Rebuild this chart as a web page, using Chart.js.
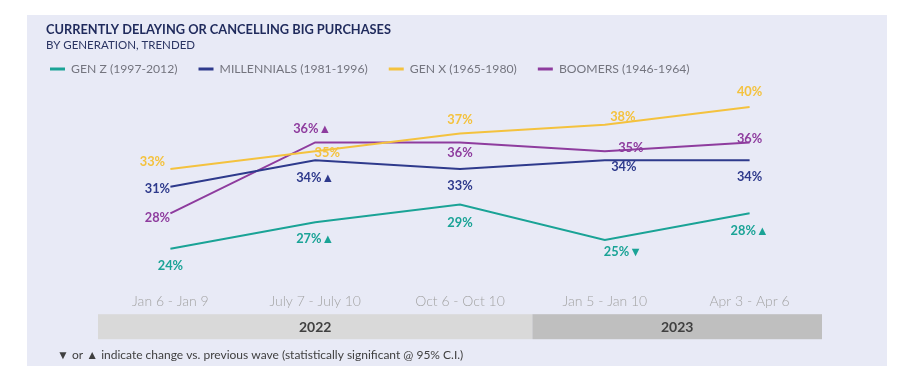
<!DOCTYPE html>
<html><head><meta charset="utf-8">
<script src="https://cdn.jsdelivr.net/npm/chart.js@4/dist/chart.umd.min.js"></script>
<style>
html,body{margin:0;padding:0;background:#fff;width:912px;height:384px;overflow:hidden}
#panel{position:absolute;left:27px;top:15px;width:860px;height:351px;background:#e8eaf6}
canvas{display:block}
</style></head><body>
<div id="panel"><canvas id="c" width="860" height="351"></canvas></div>
<script>
// ---- data ----
const waves = ['Jan 6 - Jan 9', 'July 7 - July 10', 'Oct 6 - Oct 10', 'Jan 5 - Jan 10', 'Apr 3 - Apr 6'];
const years = ['2022', '2023'];
const wavesPerYear = [3, 2];
const seriesNames = ['GEN Z (1997-2012)', 'MILLENNIALS (1981-1996)', 'GEN X (1965-1980)', 'BOOMERS (1946-1964)'];
const genZ = [24, 27, 29, 25, 28];
const millennials = [31, 34, 33, 34, 34];
const genX = [33, 35, 37, 38, 40];
const boomers = [28, 36, 36, 35, 36];
const genZSig = ['', 'up', '', 'down', 'up'];
const millennialsSig = ['', 'up', '', '', ''];
const genXSig = ['', '', '', '', ''];
const boomersSig = ['', 'up', '', '', ''];
const titleText = 'CURRENTLY DELAYING OR CANCELLING BIG PURCHASES';
const subtitleText = 'BY GENERATION, TRENDED';
const footnoteText = '\u25BC or \u25B2 indicate change vs. previous wave (statistically significant @ 95% C.I.)';

// ---- styles ----
const FONT = 'Lato, "Open Sans", sans-serif';
const colors = ['#1aa396', '#2e3a8c', '#f4c23e', '#8e3c9e'];
const labelOffsets = [
  [[0, 17], [0, 17], [0, 18], [18, 12], [0, 18]],
  [[-13, 2], [0, 18], [0, 17], [19, 7], [0, 17]],
  [[-18, -7], [12, 2], [0, -14], [18, -8], [0, -15]],
  [[-13, 5], [-3, -14], [0, 10], [26, -3], [0, -4]]
];
const sigs = [genZSig, millennialsSig, genXSig, boomersSig];
const values = [genZ, millennials, genX, boomers];

const headerPlugin = {
  id: 'header',
  afterDraw(chart) {
    const ctx = chart.ctx;
    ctx.save();
    ctx.textAlign = 'left';
    ctx.textBaseline = 'middle';
    ctx.fillStyle = '#1f2a5c';
    ctx.font = 'bold 12.8px ' + FONT;
    ctx.fillText(titleText, 19, 15);
    ctx.fillStyle = '#2b3563';
    ctx.font = '11.5px ' + FONT;
    ctx.fillText(subtitleText, 19, 30.5);
    ctx.fillStyle = '#3f3f3f';
    ctx.font = '12px ' + FONT;
    ctx.fillText(footnoteText, 30, 340);
    ctx.restore();
  }
};

const yearBandPlugin = {
  id: 'yearBand',
  afterDraw(chart) {
    const ctx = chart.ctx;
    const xs = chart.scales.x;
    const half = (xs.getPixelForValue(1) - xs.getPixelForValue(0)) / 2;
    const top = chart.chartArea.bottom + 30;
    const h = 25;
    const fills = ['#d9d9d9', '#bfbfbf'];
    let idx = 0;
    ctx.save();
    years.forEach((yr, i) => {
      const l = xs.getPixelForValue(idx) - half;
      const r = xs.getPixelForValue(idx + wavesPerYear[i] - 1) + half;
      ctx.fillStyle = fills[i];
      ctx.fillRect(l, top, r - l, h);
      ctx.fillStyle = '#404040';
      ctx.font = 'bold 14px ' + FONT;
      ctx.textAlign = 'center';
      ctx.textBaseline = 'middle';
      ctx.fillText(yr, (l + r) / 2, top + h / 2 + 0.5);
      idx += wavesPerYear[i];
    });
    ctx.restore();
  }
};

const pointLabelPlugin = {
  id: 'pointLabels',
  afterDatasetsDraw(chart) {
    const ctx = chart.ctx;
    ctx.save();
    ctx.font = 'bold 12.8px ' + FONT;
    ctx.textAlign = 'center';
    ctx.textBaseline = 'middle';
    chart.data.datasets.forEach((ds, di) => {
      const meta = chart.getDatasetMeta(di);
      ctx.fillStyle = colors[di];
      meta.data.forEach((pt, i) => {
        const s = sigs[di][i];
        const txt = ds.data[i] + '%' + (s === 'up' ? '\u25B2' : s === 'down' ? '\u25BC' : '');
        const off = labelOffsets[di][i];
        ctx.fillText(txt, pt.x + off[0], pt.y + off[1]);
      });
    });
    ctx.restore();
  }
};

new Chart(document.getElementById('c'), {
  type: 'line',
  data: {
    labels: waves,
    datasets: seriesNames.map((n, i) => ({
      label: n,
      data: values[i],
      borderColor: colors[i],
      backgroundColor: colors[i],
      borderWidth: 2,
      pointRadius: 0,
      tension: 0,
      fill: false
    }))
  },
  options: {
    responsive: false,
    devicePixelRatio: 1,
    animation: false,
    layout: { padding: { left: 2, right: 65, top: 26.9, bottom: 21.8 } },
    scales: {
      x: {
        offset: true,
        grid: { display: false, drawTicks: false },
        border: { display: false },
        ticks: { color: '#a3a3a3', font: { family: FONT, size: 14, weight: '300' }, padding: 8.4, maxRotation: 0 },
        afterFit(s) { s.height = 60; }
      },
      y: {
        min: 20, max: 42.47,
        grid: { display: false, drawTicks: false },
        border: { display: false },
        ticks: { display: false },
        afterFit(s) { s.width = 69; }
      }
    },
    plugins: {
      title: { display: false },
      tooltip: { enabled: false },
      legend: {
        display: true,
        position: 'top',
        align: 'start',
        labels: {
          usePointStyle: true,
          pointStyle: 'line',
          pointStyleWidth: 15,
          padding: 21,
          color: '#74757f',
          font: { family: FONT, size: 12.2 },
          generateLabels(chart) {
            return Chart.defaults.plugins.legend.labels.generateLabels(chart).map(l => Object.assign(l, { lineWidth: 3 }));
          }
        }
      }
    }
  },
  plugins: [headerPlugin, yearBandPlugin, pointLabelPlugin]
});
</script>
</body></html>
